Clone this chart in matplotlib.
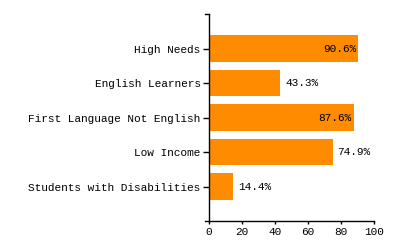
import matplotlib.pyplot as plt

categories = ['High Needs', 'English Learners', 'First Language Not English',
              'Low Income', 'Students with Disabilities']
values = [90.6, 43.3, 87.6, 74.9, 14.4]
xticks = [0, 20, 40, 60, 80, 100]

plt.rcParams['font.family'] = ['Liberation Mono', 'DejaVu Sans Mono']

fig = plt.figure(figsize=(4, 2.5), dpi=100)
ax = fig.add_axes([209 / 400, 1 - 221 / 250, 165 / 400, 207 / 250])

ypos = list(range(len(categories)))
ax.barh(ypos, values, height=0.78, color='#FF8C00')
ylo, yhi = len(categories), -1
ax.set_ylim(ylo, yhi)
ax.set_xlim(0, 100)

ax.set_yticks(ypos)
ax.set_yticklabels(categories, fontsize=8)
ax.set_xticks(xticks)
ax.set_xticklabels([str(t) for t in xticks], fontsize=8)
ax.tick_params(axis='y', length=4, width=1, pad=2)
ax.tick_params(axis='x', length=2, width=1, pad=2)

for s in ['top', 'right']:
    ax.spines[s].set_visible(False)
ax.spines['left'].set_linewidth(1)
ax.spines['bottom'].set_linewidth(1)

# outer ticks at the ends of the y axis
for y in [ylo, yhi]:
    ax.plot([-2.4, 0], [y, y], color='black', lw=1, clip_on=False)

for y, v in zip(ypos, values):
    label = f'{v}%'
    if v > 80:
        ax.text(v - 1.5, y, label, ha='right', va='center', fontsize=8)
    else:
        ax.text(v + 3, y, label, ha='left', va='center', fontsize=8)

fig.savefig('out.png', dpi=100)
